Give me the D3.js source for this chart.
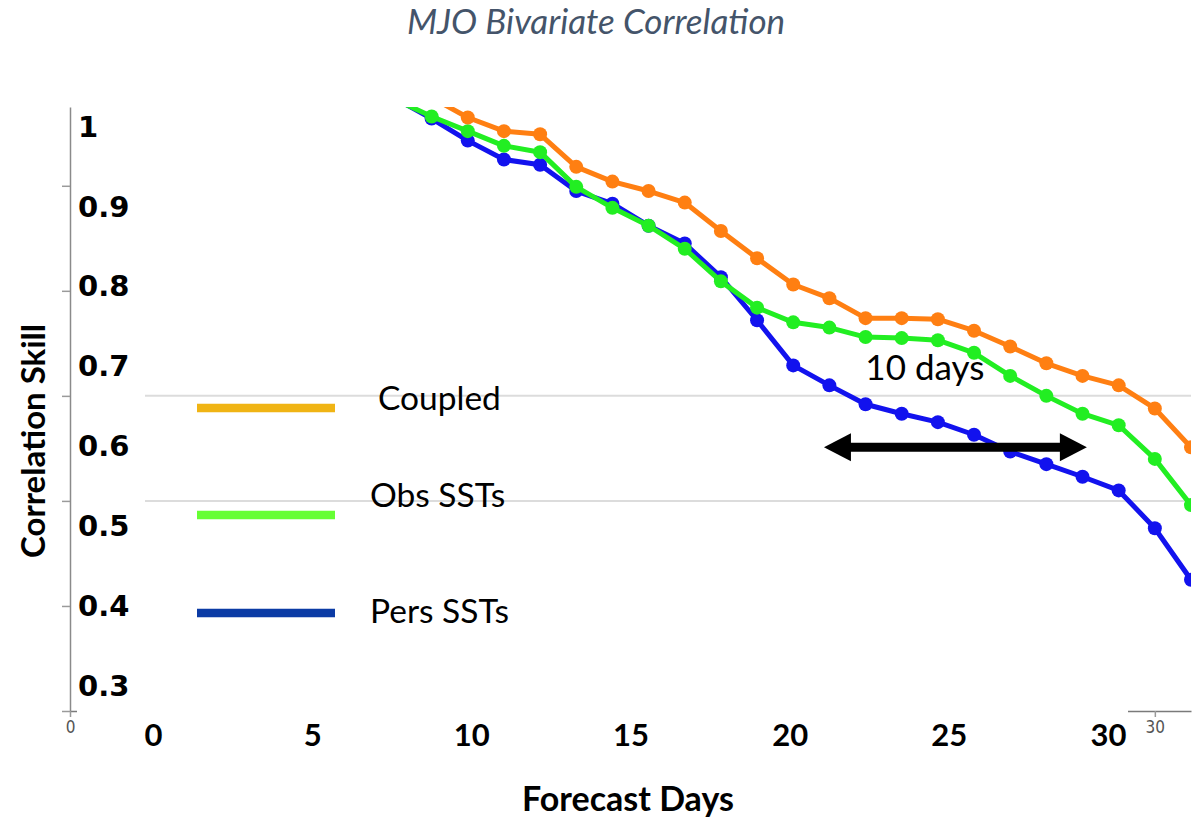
<!DOCTYPE html>
<html>
<head>
<meta charset="utf-8">
<script src="https://cdn.jsdelivr.net/npm/d3@7"></script>
<style>
  html, body { margin: 0; padding: 0; background: #fff; }
  svg { display: block; }
  .frame-x .tick text { font-family: 'Liberation Sans Narrow', 'DejaVu Sans Condensed', sans-serif; font-size: 17px; }
</style>
</head>
<body>
<svg id="chart" width="1200" height="817"></svg>
<script>
// Forecast lead (days) for each plotted point
const days = [9, 10, 11, 12, 13, 14, 15, 16, 17, 18, 19, 20, 21, 22, 23, 24, 25, 26, 27, 28, 29, 30, 31];

// MJO bivariate correlation skill per experiment
const coupled = [0.995, 0.984, 0.965, 0.952, 0.949, 0.918, 0.904, 0.895, 0.884, 0.857, 0.831, 0.806, 0.793, 0.774, 0.774, 0.773, 0.762, 0.747, 0.731, 0.719, 0.710, 0.688, 0.651];
const obsSST  = [0.982, 0.966, 0.952, 0.938, 0.932, 0.899, 0.879, 0.862, 0.840, 0.809, 0.784, 0.770, 0.765, 0.756, 0.755, 0.753, 0.741, 0.719, 0.700, 0.683, 0.672, 0.640, 0.596];
const persSST = [0.983, 0.964, 0.943, 0.925, 0.920, 0.895, 0.883, 0.862, 0.845, 0.813, 0.772, 0.729, 0.710, 0.692, 0.683, 0.675, 0.663, 0.647, 0.635, 0.623, 0.610, 0.574, 0.525];

const seriesNames = ["Coupled", "Obs SSTs", "Pers SSTs"];
const lineColors = ["#ff7f12", "#22ee22", "#1212ee"];
const legendColors = ["#f0b414", "#66ff33", "#0b3ba5"];

// Tick values
const frameYTicks = [0.4, 0.5, 0.6, 0.7, 0.8, 0.9];
const gridValues = [0.6, 0.7];
const frameXTicks = [0, 30];
const labelYTicks = [1, 0.9, 0.8, 0.7, 0.6, 0.5, 0.4, 0.3];
const labelXTicks = [0, 5, 10, 15, 20, 25, 30];

// Annotation: spread between the experiments
const arrowSpan = [20.85, 28.12];
const arrowLevel = 0.651;
const arrowText = "10 days";
const arrowTextPos = [23.64, 0.715];

const svg = d3.select("#chart");
const LATO = "Lato, 'Open Sans', sans-serif";

// Scales of the plotting frame
const x = d3.scaleLinear().domain([0, 31]).range([70, 1191]);
const y = d3.scaleLinear().domain([0.4, 0.975]).range([711, 107]);

// Scales of the bold label strips
const xLab = d3.scaleLinear().domain([0, 30]).range([153, 1108]);
const yLab = d3.scaleLinear().domain([0.3, 1]).range([686, 127]);

// Title
svg.append("text")
  .attr("x", 596).attr("y", 34)
  .attr("text-anchor", "middle")
  .attr("font-family", LATO).attr("font-style", "italic")
  .attr("font-size", 35).attr("fill", "#44546a")
  .text("MJO Bivariate Correlation");

// Horizontal gridlines
svg.append("g").selectAll("line").data(gridValues).join("line")
  .attr("x1", 145).attr("x2", 1191)
  .attr("y1", d => y(d)).attr("y2", d => y(d))
  .attr("stroke", "#dcdcdc").attr("stroke-width", 2);

// Frame axes
const yAxisG = svg.append("g").attr("transform", `translate(${x(0)},0)`)
  .call(d3.axisLeft(y).tickValues(frameYTicks).tickFormat("").tickSize(8).tickSizeOuter(0));
yAxisG.select(".domain").attr("stroke", "#8a8a8a").attr("stroke-width", 1.5);
yAxisG.selectAll(".tick line").attr("stroke", "#9a9a9a").attr("stroke-width", 1.5);

const xAxisG = svg.append("g").attr("class", "frame-x")
  .attr("transform", `translate(0,${y(0.4)})`)
  .call(d3.axisBottom(x).tickValues(frameXTicks).tickSize(6).tickSizeOuter(0).tickPadding(4));
xAxisG.select(".domain").attr("stroke", "#7a7a7a").attr("stroke-width", 1.5);
xAxisG.selectAll(".tick line").attr("stroke", "#9a9a9a").attr("stroke-width", 1.5);
xAxisG.selectAll(".tick text").attr("fill", "#555");

// Data lines and markers
const plot = svg.append("g");
svg.append("clipPath").attr("id", "plotClip").append("rect")
  .attr("x", x(0)).attr("y", y.range()[1])
  .attr("width", x.range()[1] - x(0)).attr("height", y.range()[0] - y.range()[1]);
plot.attr("clip-path", "url(#plotClip)");

const allSeries = [coupled, obsSST, persSST];
const line = d3.line().x((d, i) => x(days[i])).y(d => y(d));
// Persisted SSTs first so the coupled run sits on top
[2, 1, 0].forEach(k => {
  const g = plot.append("g");
  g.append("path").datum(allSeries[k])
    .attr("d", line).attr("fill", "none")
    .attr("stroke", lineColors[k]).attr("stroke-width", 5)
    .attr("stroke-linejoin", "round");
  g.selectAll("circle").data(allSeries[k]).join("circle")
    .attr("cx", (d, i) => x(days[i])).attr("cy", d => y(d))
    .attr("r", 7).attr("fill", lineColors[k]);
});

// Label strips laid over the frame
svg.append("rect").attr("x", 76).attr("y", 100).attr("width", 69).attr("height", 609).attr("fill", "#fff");
svg.append("rect").attr("x", 77).attr("y", 709).attr("width", 1051).attr("height", 50).attr("fill", "#fff");

// Bold value labels
const yLabG = svg.append("g").attr("transform", "translate(78,0)")
  .call(d3.axisRight(yLab).tickValues(labelYTicks).tickSize(0).tickPadding(0)
    .tickFormat(d => d === 1 ? "1" : d3.format(".1f")(d)));
yLabG.select(".domain").remove();
yLabG.selectAll(".tick text")
  .attr("font-family", "'DejaVu Sans', sans-serif").attr("font-weight", "bold")
  .attr("font-size", 29).attr("fill", "#000");

const xLabG = svg.append("g").attr("transform", "translate(0,746)")
  .call(d3.axisBottom(xLab).tickValues(labelXTicks).tickSize(0).tickPadding(0));
xLabG.select(".domain").remove();
xLabG.selectAll(".tick text")
  .attr("dy", 0)
  .attr("font-family", LATO).attr("font-weight", "bold")
  .attr("font-size", 31).attr("fill", "#000");

// Axis titles
svg.append("text")
  .attr("transform", "translate(45,441) rotate(-90)")
  .attr("text-anchor", "middle")
  .attr("font-family", LATO).attr("font-weight", "bold")
  .attr("font-size", 33).attr("fill", "#000")
  .text("Correlation Skill");

svg.append("text")
  .attr("x", 628).attr("y", 811)
  .attr("text-anchor", "middle")
  .attr("font-family", LATO).attr("font-weight", "bold")
  .attr("font-size", 34).attr("fill", "#000")
  .text("Forecast Days");

// Legend
const legendRows = [408, 515, 613];
const legendTextX = [378, 370, 370];
const legendTextY = [410, 507, 623];
const legend = svg.append("g");
seriesNames.forEach((name, i) => {
  legend.append("line")
    .attr("x1", 197).attr("x2", 335)
    .attr("y1", legendRows[i]).attr("y2", legendRows[i])
    .attr("stroke", legendColors[i]).attr("stroke-width", 8.5);
  legend.append("text")
    .attr("x", legendTextX[i]).attr("y", legendTextY[i])
    .attr("font-family", LATO).attr("font-size", 33.5).attr("fill", "#000")
    .text(name);
});

// Double-headed arrow with its label
const ax0 = x(arrowSpan[0]), ax1 = x(arrowSpan[1]), ay = y(arrowLevel);
const headL = 27, headH = 14;
const arrow = svg.append("g");
arrow.append("line")
  .attr("x1", ax0 + headL - 2).attr("x2", ax1 - headL + 2)
  .attr("y1", ay).attr("y2", ay)
  .attr("stroke", "#000").attr("stroke-width", 9);
arrow.append("path")
  .attr("d", `M${ax0},${ay} L${ax0 + headL},${ay - headH} L${ax0 + headL},${ay + headH} Z`)
  .attr("fill", "#000");
arrow.append("path")
  .attr("d", `M${ax1},${ay} L${ax1 - headL},${ay - headH} L${ax1 - headL},${ay + headH} Z`)
  .attr("fill", "#000");
svg.append("text")
  .attr("x", x(arrowTextPos[0])).attr("y", y(arrowTextPos[1]))
  .attr("text-anchor", "middle")
  .attr("font-family", LATO).attr("font-size", 35).attr("fill", "#000")
  .text(arrowText);
</script>
</body>
</html>
